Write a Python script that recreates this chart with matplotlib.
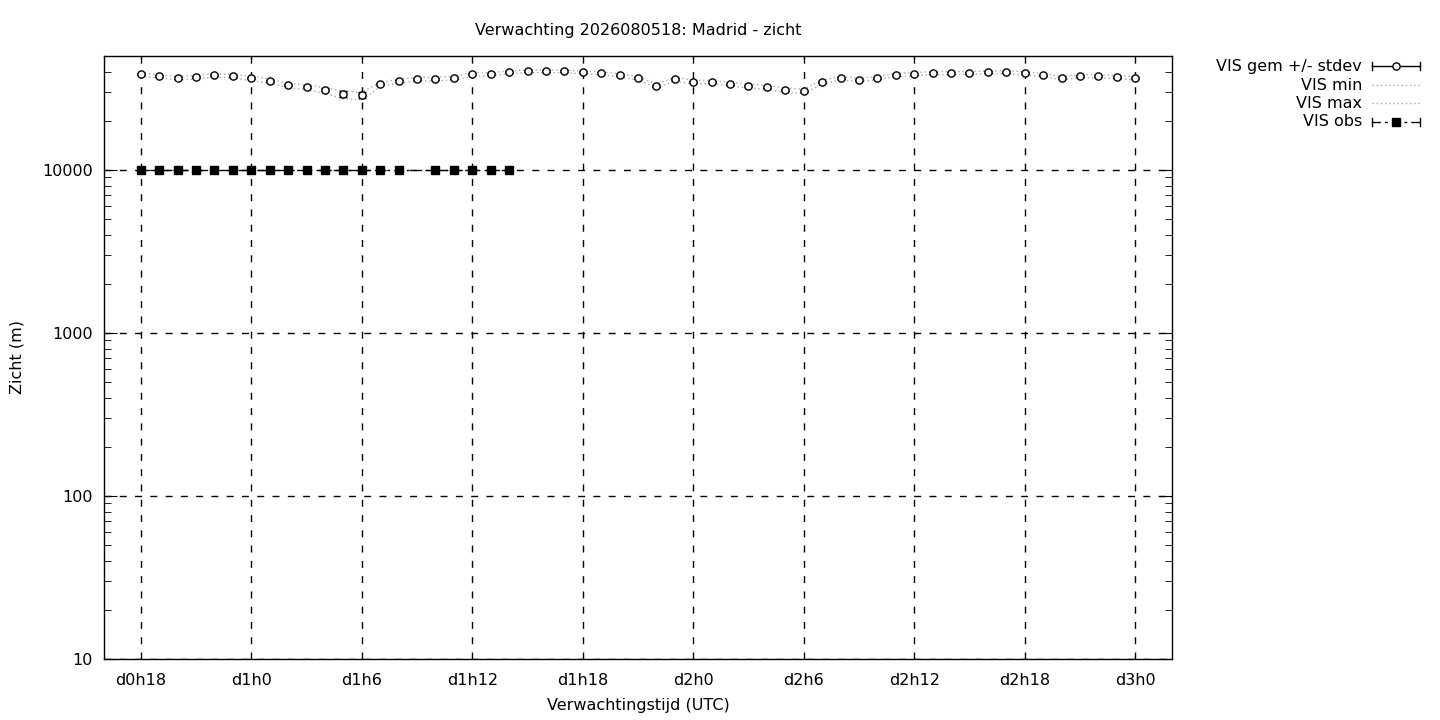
import matplotlib
matplotlib.use('Agg')
import matplotlib.pyplot as plt
from matplotlib.lines import Line2D
from matplotlib.ticker import FixedLocator, LogLocator, NullFormatter

plt.rcParams['font.family'] = ['DejaVu Sans']

hours = list(range(18, 73))
vis_mean = [38800, 37700, 36700, 37200, 38300, 37700, 36700, 35200, 33200, 32300,
            31000, 29300, 28800, 33700, 35200, 36200, 36200, 36700, 38800, 38800,
            39900, 40500, 40500, 40500, 39900, 39400, 38300, 36700, 32800, 36200,
            34700, 34700, 33700, 32800, 32300, 31000, 30500, 34700, 36700, 35700,
            36700, 38300, 38800, 39400, 39400, 39400, 39900, 39900, 39400, 38300,
            36700, 37700, 37700, 37200, 36700]
vis_std = [600, 500, 500, 500, 500, 500, 700, 600, 600, 600,
           600, 1300, 1100, 600, 500, 500, 500, 600, 600, 500,
           500, 500, 500, 500, 500, 500, 500, 500, 500, 500,
           600, 500, 500, 500, 500, 500, 500, 500, 500, 500,
           500, 500, 600, 500, 500, 500, 500, 500, 500, 500,
           500, 500, 500, 500, 600]
vis_min = [37500, 36800, 35600, 36200, 37200, 36600, 35300, 34000, 32000, 31000,
           29500, 27300, 26800, 32500, 34000, 35000, 35200, 35600, 37500, 37800,
           38900, 39500, 39600, 39500, 38900, 38400, 37200, 35600, 31900, 35000,
           33700, 33800, 32700, 31800, 31200, 30000, 29400, 33600, 35700, 34800,
           35800, 37300, 37800, 38500, 38400, 38500, 39000, 38900, 38400, 37300,
           35700, 36700, 36800, 36200, 35800]
vis_max = [39500, 38400, 37400, 37900, 39000, 38400, 37600, 36100, 34000, 33200,
           32000, 30500, 29900, 34500, 36000, 37000, 37000, 37500, 39600, 39500,
           40500, 41000, 41000, 41000, 40500, 40000, 39000, 37500, 33600, 37000,
           35500, 35400, 34500, 33600, 33000, 31800, 31300, 35500, 37500, 36500,
           37400, 39000, 39500, 40100, 40100, 40100, 40500, 40600, 40100, 39000,
           37400, 38400, 38400, 37900, 37400]
obs_hours = [18, 19, 20, 21, 22, 23, 24, 25, 26, 27, 28, 29, 30, 31, 32,
             34, 35, 36, 37, 38]
obs_vis = [10000] * len(obs_hours)

tick_hours = [18, 24, 30, 36, 42, 48, 54, 60, 66, 72]
tick_labels = ['d0h18', 'd1h0', 'd1h6', 'd1h12', 'd1h18',
               'd2h0', 'd2h6', 'd2h12', 'd2h18', 'd3h0']

GRAY = '#a8a8a8'
OBS_DASH = (0, (6, 3, 2, 3))
FS = 11.5


def main():
    fig = plt.figure(figsize=(14.4, 7.2), dpi=100)
    ax = fig.add_axes([104 / 1440, 1 - 659 / 720, (1172 - 104) / 1440, (659 - 56) / 720])

    ax.plot(hours, vis_min, color=GRAY, lw=1, ls=(0, (1, 2)))
    ax.plot(hours, vis_max, color=GRAY, lw=1, ls=(0, (1, 2)))
    ax.errorbar(hours, vis_mean, yerr=vis_std, fmt='o', color='black', ms=5.2,
                mfc='white', mec='black', mew=1, elinewidth=1, capsize=3, zorder=4)
    ax.plot(obs_hours, obs_vis, color='black', lw=1, ls=OBS_DASH,
            marker='s', ms=5.5, zorder=4)

    ax.set_yscale('log')
    ax.set_xlim(16, 74)
    ax.set_ylim(10, 50000)
    ax.xaxis.set_major_locator(FixedLocator(tick_hours))
    ax.set_xticklabels(tick_labels)
    ax.yaxis.set_major_locator(FixedLocator([10, 100, 1000, 10000]))
    ax.set_yticklabels(['10', '100', '1000', '10000'])
    ax.yaxis.set_minor_locator(LogLocator(base=10, subs=range(2, 10)))
    ax.yaxis.set_minor_formatter(NullFormatter())

    ax.tick_params(axis='x', length=0, pad=10, labelsize=FS)
    ax.tick_params(axis='y', which='major', direction='in', length=9,
                   right=True, pad=8, labelsize=FS)
    ax.tick_params(axis='y', which='minor', direction='in', length=5, right=True)

    ax.grid(True, which='major', color='black', lw=1, ls=(0, (5, 6)))
    for s in ax.spines.values():
        s.set_linewidth(1)

    ax.set_title('Verwachting 2026080518: Madrid - zicht', fontsize=FS, pad=15)
    ax.set_xlabel('Verwachtingstijd (UTC)', fontsize=FS, labelpad=7)
    ax.set_ylabel('Zicht (m)', fontsize=FS, labelpad=13)

    # legend, gnuplot style: right-aligned text, sample to the right
    rows = [66, 85, 103, 122]
    names = ['VIS gem +/- stdev', 'VIS min', 'VIS max', 'VIS obs']
    x0, x1 = 1372 / 1440, 1420 / 1440
    xm = (x0 + x1) / 2
    for name, ypx in zip(names, rows):
        y = 1 - ypx / 720
        fig.text(1362 / 1440, y, name, ha='right', va='center', fontsize=FS)
        if name == 'VIS gem +/- stdev' or name == 'VIS obs':
            ls = '-' if name == 'VIS gem +/- stdev' else OBS_DASH
            fig.add_artist(Line2D([x0, x1], [y, y], color='black', lw=1, ls=ls))
            for xc in (x0, x1):
                fig.add_artist(Line2D([xc, xc], [y - 4 / 720, y + 4 / 720],
                                      color='black', lw=1))
            if name == 'VIS obs':
                fig.add_artist(Line2D([xm], [y], marker='s', ms=5.5, color='black'))
            else:
                fig.add_artist(Line2D([xm], [y], marker='o', ms=5.2, mfc='white',
                                      mec='black', mew=1, ls='none'))
        else:
            fig.add_artist(Line2D([x0, x1], [y, y], color=GRAY, lw=1, ls=(0, (1, 2))))

    fig.savefig('out.png', dpi=100)


if __name__ == '__main__':
    main()
